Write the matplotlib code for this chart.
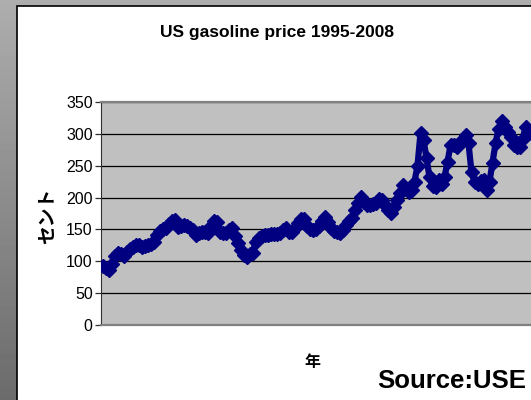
import numpy as np
import matplotlib
matplotlib.use("Agg")
import matplotlib.pyplot as plt
from matplotlib import font_manager as fm
from matplotlib.patches import Rectangle

# US gasoline price (cents), roughly monthly from 1995
price = [
    92, 90, 87, 96, 108, 113, 111, 109, 115, 119, 123, 126, 125, 123, 124, 125,
    127, 131, 142, 148, 150, 153, 158, 163, 165, 154, 155, 157, 155, 152, 149, 141,
    145, 146, 146, 144, 155, 163, 161, 146, 144, 145, 149, 152, 140, 128, 118, 110,
    106, 111, 113, 130, 137, 140, 141, 142, 143, 143, 143, 144, 149, 152, 146, 146,
    152, 160, 166, 167, 156, 151, 149, 151, 156, 163, 170, 162, 152, 148, 146, 144,
    149, 157, 163, 168, 180, 192, 201, 193, 189, 188, 190, 192, 197, 196, 188, 181,
    176, 185, 196, 207, 220, 213, 208, 212, 225, 250, 301, 290, 262, 232, 218, 217,
    227, 222, 232, 256, 282, 283, 280, 285, 292, 298, 285, 240, 225, 222, 226, 228,
    212, 225, 255, 285, 308, 320, 310, 303, 295, 283, 280, 280, 292, 310, 302, 305,
]
months = np.arange(len(price))

y_ticks = [0, 50, 100, 150, 200, 250, 300, 350]
title = "US gasoline price 1995-2008"
y_label = "セント"
x_label = "年"
source = "Source:USE"

names = {f.name for f in fm.fontManager.ttflist}
narrow = "Liberation Sans Narrow" if "Liberation Sans Narrow" in names else "Liberation Sans"
cjk = ["Noto Sans CJK JP", "DejaVu Sans"]

W, H = 531, 400
fig = plt.figure(figsize=(W / 100, H / 100), dpi=100)

# grey gradient backdrop and the white chart panel
bg = fig.add_axes([0, 0, 1, 1])
grad = np.linspace(0.68, 0.42, 200).reshape(-1, 1)
bg.imshow(grad, cmap="gray", vmin=0, vmax=1, aspect="auto", extent=[0, W, H, 0])
bg.add_patch(Rectangle((16.5, 5.5), 700, 600, facecolor="white", edgecolor="black", lw=1.2))
bg.set_xlim(0, W)
bg.set_ylim(H, 0)
bg.axis("off")

# plot area: left edge at 101px, running off the right side of the picture
ax = fig.add_axes([101 / W, 75 / H, 469 / W, 223 / H])
ax.set_facecolor("#C0C0C0")
ax.plot(months, price, color="#000080", lw=4.5, marker="D", markersize=7.5,
        markeredgecolor="#000080", zorder=3)
ax.set_xlim(-0.5, -0.5 + 469 / 3)
ax.set_ylim(0, 350)
ax.set_yticks(y_ticks)
ax.set_xticks([])
ax.yaxis.grid(True, color="black", lw=0.9)
ax.set_axisbelow(True)
for s in ["top", "bottom", "right"]:
    ax.spines[s].set_color("#808080")
    ax.spines[s].set_linewidth(1.6)
ax.spines["left"].set_color("#303030")
ax.tick_params(axis="y", length=4, width=0.9, color="#303030", pad=2)
for lab in ax.get_yticklabels():
    lab.set_fontfamily(narrow)
    lab.set_fontsize(11.5)

fig.text(277 / W, 1 - 33 / H, title, ha="center", va="center",
         fontsize=12.5, fontweight="bold", family=narrow)
fig.text(48 / W, 1 - 216 / H, y_label, ha="center", va="center", rotation=90,
         fontsize=13.5, fontweight="bold", family=cjk)
fig.text(312 / W, 1 - 362 / H, x_label, ha="center", va="center",
         fontsize=11.5, fontweight="bold", family=cjk)
fig.text(377 / W, 1 - 381 / H, source, ha="left", va="center",
         fontsize=18.5, fontweight="bold", family="Liberation Sans")

fig.savefig("out.png", dpi=100)
